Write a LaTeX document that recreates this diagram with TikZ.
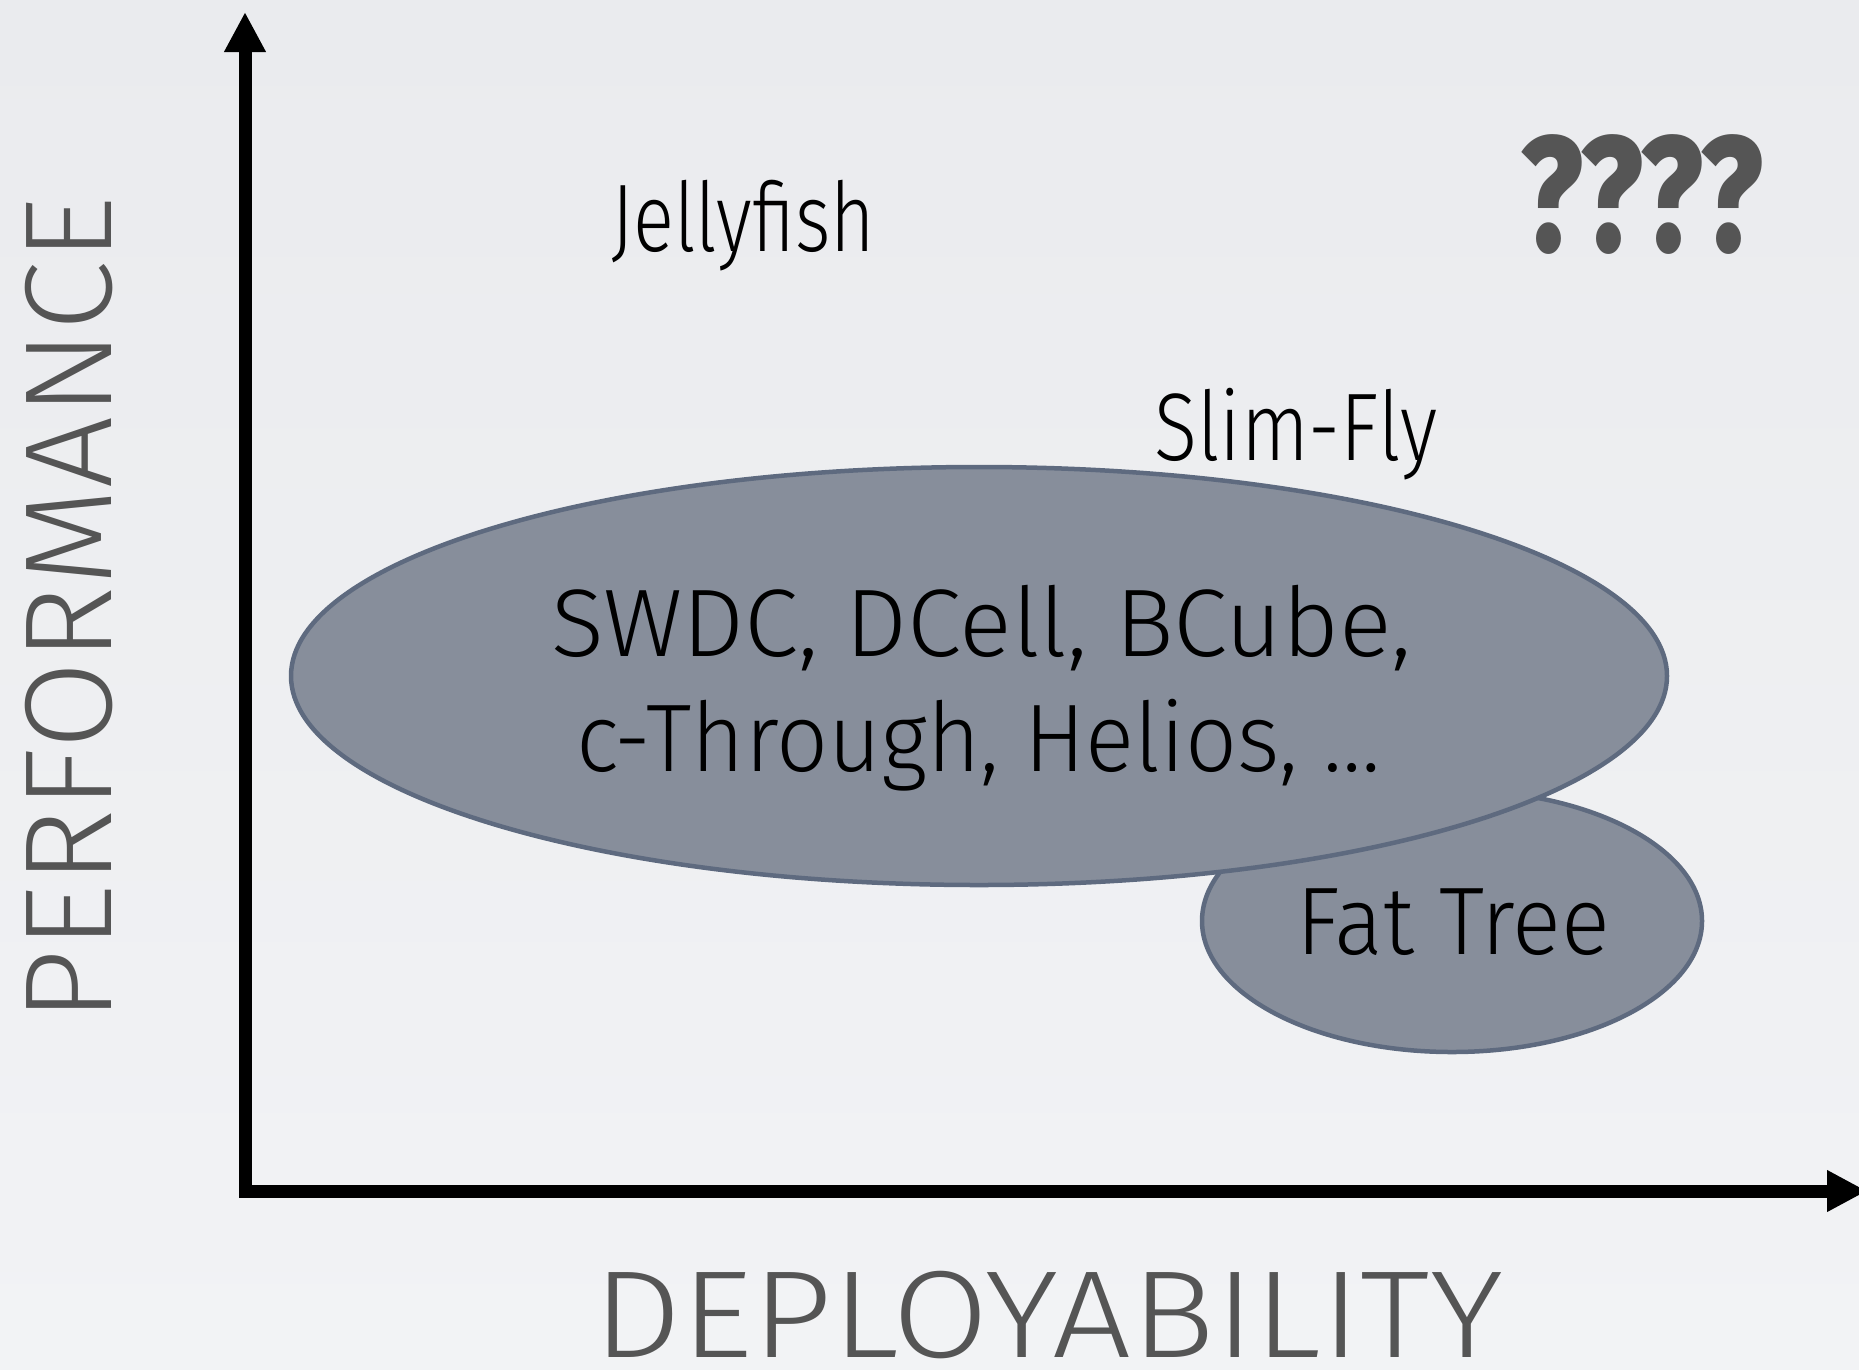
\documentclass[tikz,border=0pt]{standalone}
\usepackage{fontspec}
\usepackage{graphicx}
\usetikzlibrary{arrows.meta,shapes.geometric}
\setmainfont{Fira Sans}[UprightFont={* Light},BoldFont={* Bold}]
\newfontfamily\heavyfont{Fira Sans ExtraBold}

\definecolor{paperTop}{HTML}{EAEBEE}
\definecolor{paperBot}{HTML}{F2F3F5}
\definecolor{blobFill}{HTML}{878E9B}
\definecolor{blobLine}{HTML}{5E6A7F}
\definecolor{axisLabel}{HTML}{555555}

% set a label at its natural height, stretched or squeezed to a given width
\newsavebox\fitbox
\newcommand\fitto[2]{\sbox\fitbox{#2}\scalebox{\fpeval{#1/\the\wd\fitbox}}[1]{\usebox\fitbox}}

\begin{document}
\begin{tikzpicture}[x=1pt,y=-1pt,
  blob/.style={ellipse,draw=blobLine,fill=blobFill,line width=4.5pt,inner sep=0pt},
  label/.style={inner sep=0pt,anchor=base west,text=black,font=\fontsize{96}{110}\selectfont},
  axislabel/.style={inner sep=0pt,text=axisLabel,font=\fontsize{124}{140}\selectfont},
  axisline/.style={line width=13pt,line join=miter,
    {Triangle[width=39pt,length=40pt]}-{Triangle[width=39pt,length=40pt]}}]

% page and background
\useasboundingbox (0,0) rectangle (1859,1369);
\shade[top color=paperTop,bottom color=paperBot] (0,0) rectangle (1859,1369);

% axes
\coordinate (ytip) at (245,12);
\coordinate (origin) at (245,1191);
\coordinate (xtip) at (1867,1191);
\draw[axisline] (ytip) -- (origin) -- (xtip);

% axis titles
\node[axislabel,rotate=90] (perf) at (69.5,609) {\fitto{826pt}{PERFORMANCE}};
\node[axislabel,anchor=base] (deploy) at (1048,1357) {\fitto{910pt}{DEPLOYABILITY}};

% topology regions
\node[blob,minimum width=500pt,minimum height=262pt] (fatblob) at (1452,921) {};
\node[blob,minimum width=1376pt,minimum height=418pt] (bigblob) at (979,676) {};

% labels
\node[label] (jelly) at (611,251) {\fitto{264pt}{Jellyfish}};
\node[label] (slim) at (1154,460) {\fitto{283pt}{Slim-Fly}};
\node[label] (swdc) at (551,656) {\fitto{860pt}{SWDC, DCell, BCube,}};
\node[label] (cthru) at (576,771) {\fitto{805pt}{c-Through, Helios, …}};
\node[label] (fat) at (1296,954) {\fitto{314pt}{Fat Tree}};
\node[label,text=axisLabel,font=\fontsize{164}{180}\heavyfont] (quest) at (1520,251) {\fitto{243pt}{????}};
\end{tikzpicture}
\end{document}
